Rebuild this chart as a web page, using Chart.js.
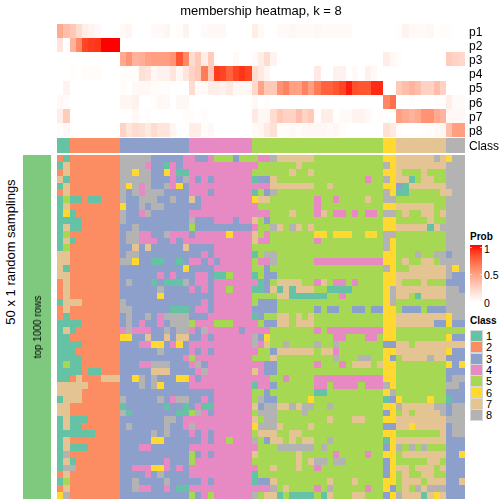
<!DOCTYPE html>
<html>
<head>
<meta charset="utf-8">
<script src="https://cdn.jsdelivr.net/npm/chart.js@4"></script>
<style>
  html, body { margin: 0; padding: 0; background: #fff; }
  body { position: relative; width: 504px; height: 504px; overflow: hidden; font-family: "Liberation Sans", sans-serif; color: #000; }
  canvas { position: absolute; }
  .txt { position: absolute; white-space: nowrap; line-height: 1; }
  .rot { transform: translate(-50%, -50%) rotate(-90deg); }
  .head { font-weight: bold; font-size: 10px; }
  .num { font-size: 10.5px; transform: translateY(-50%); }
  .swatch { position: absolute; left: 470px; width: 11px; height: 10px; border: 1px solid #d8d8d8; box-sizing: content-box; }
</style>
</head>
<body>
<canvas id="topChart" width="447" height="137" style="left:57px;top:0"></canvas>
<canvas id="classChart" width="447" height="15" style="left:57px;top:138px"></canvas>
<canvas id="mainChart" width="408" height="344" style="left:57px;top:155px"></canvas>
<canvas id="sideChart" width="28" height="344" style="left:23px;top:155px"></canvas>
<div id="labels"></div>
<script>
const titleText = 'membership heatmap, k = 8';
const probLabels = ['p1', 'p2', 'p3', 'p4', 'p5', 'p6', 'p7', 'p8'];

const p1 = [.45,.35,.3,.2,.1,.07,.04,0,0,0, .03,.06,0,0,0,.03,.03,.06,0,.02,.07, 0,0,.03,.04,.04,.04,0,0,0,0,
  .1,.03,0,0,.03,.03,.05,.03,.03,.03,.05,.03,.03,.03,.03,.03,0,0,0,0,0, 0,0, .02,.07,.03,.03,.03,.05,0,.02, .02,0,0];
const p2 = [.15,0,.4,.6,.85,.88,.9,1,1,1, 0,0,0,0,0,0,0,0,0,0,0, 0,0,0,0,0,0,0,0,0,0,
  0,0,0,0,0,0,0,0,0,0,0,0,0,0,0,0,0,0,0,0,0, 0,0, 0,0,0,0,0,0,0,0, 0,0,0];
const p3 = [0,0,0,0,0,0,0,0,0,0, .45,.55,.4,.42,.48,.5,.5,.5,.55,.8,.6, .2,.3,.1,.28,0,0,0,.03,0,0,
  .03,.1,.2,.07,0,0,0,0,0,0,0,0,0,0,0,0,0,0,0,0,0, .1,.04, .02,0,0,0,0,0,0,0, .28,.24,.22];
const p4 = [0,0,.02,0,.02,.02,.02,0,0,0, .02,.02,.02,.18,.15,.05,.08,.08,.15,.05,.15, .25,.3,.65,.3,.88,.85,.75,.85,.9,.85,
  .2,.12,.06,0,0,0,0,0,0,0,.12,0,0,.08,.08,0,.03,0,.08,.03,0, 0,0, 0,0,0,0,0,0,0,0, 0,0,0];
const p5 = [0,.07,0,0,0,0,0,0,0,0, .02,0,.04,.04,.04,.02,.02,.02,0,0,0, .2,.03,.03,.1,.1,.08,.12,.05,.05,.05,
  .22,.48,.3,.3,.55,.62,.5,.48,.62,.5,.65,.75,.75,.8,.85,.95,.82,.8,.8,.92,.92, 0,0, .3,.35,.4,.35,.25,.25,.35,.25, 0,0,0];
const p6 = [.04,.02,0,0,0,0,0,0,0,0, .06,.06,.08,0,0,.02,.05,.04,0,.05,.05, 0,0,0,0,0,0,0,0,0,0,
  .04,0,.02,0,0,0,0,0,0,0,0,0,0,0,0,0,0,0,0,0,0, .6,.7, 0,0,.01,0,0,0,.02,.01, .1,.03,.03];
const p7 = [.1,.28,0,0,0,0,0,0,0,0, 0,0,.04,0,.02,0,0,0,0,0,.02, .02,0,.02,0,0,0,0,0,0,0,
  .12,.05,.05,.2,.3,.25,.25,.35,.25,.3,.02,.1,.1,0,.03,.03,.07,.07,.04,0,.02, 0,0, .5,.45,.4,.45,.55,.55,.45,.4, .04,.04,.04];
const p8 = [.02,.04,0,0,0,0,0,0,0,0, .25,.15,.2,.18,.12,.2,.15,.15,.06,.01,.01, .1,.1,.02,.04,0,0,0,0,0,0,
  .03,.06,.12,.18,.02,.02,.04,.02,.04,.05,.05,.05,.03,.05,.02,0,0,0,0,0,0, .18,.12, .02,0,0,0,.01,.02,.03,.06, .35,.5,.5];

// class of every column, then the class picked in each of the 50 samplings
const columnClass = '11 22222222 33333333333 4444444444 555555555555555555555 66 77777777 888';
const samplingRows = [
  '21 22222222 88888333334 4334555355 544877777755555555555 66 77777787 688',
  '17 22222222 88884331434 4444444444 455555575555555555555 86 77777777 888',
  '27 22222222 88688336411 4444444444 555555755755555555555 66 75557555 888',
  '71 22222222 88888333438 4343444444 133755555555555555455 86 77157755 888',
  '17 22222222 86848338463 4444444444 444777777755755555555 66 31777777 888',
  '27 22222222 83848883333 4443444444 153855555555555555555 86 11555557 788',
  '15 11211222 83388833833 7344444444 677555555545545555755 88 55555555 888',
  '17 22222222 63383883333 3344444444 455555555545555555555 66 77777755 888',
  '16 12222222 83348333333 4444444444 444555755547544545445 88 57557757 888',
  '11 11222222 83333333333 8333444344 753555555555555555555 66 55555755 888',
  '17 11222222 33833333333 5333333333 455875875755555555555 66 77777178 888',
  '15 22222222 38844338444 3444446444 754555555566566655665 88 55555555 888',
  '17 12222222 38844433434 4444444444 744555555545555555555 86 55555555 888',
  '15 22222222 33737333337 3333444444 555555555555555555555 86 55555555 888',
  '77 22222222 38833333333 3343444444 158855555555555555555 66 55585588 388',
  '77 22222222 88633113313 4434344444 544855555544444444444 66 57557758 888',
  '71 22222222 33333333336 3333444444 553555555555555555555 86 55777777 868',
  '77 22222222 33333343433 3443115444 153355555555555555555 66 77777777 833',
  '27 22222222 38333131118 3443444444 413577775547544545555 66 75557555 333',
  '27 22222222 33333383333 4343445444 113717177755111155555 68 77777777 883',
  '27 22222222 33333363333 3333444444 555577111111554555555 68 77517777 888',
  '17 77222222 83333333333 3343444444 533355555555555555555 68 55555555 888',
  '27 22222222 88333333111 3443444444 333355555535335533533 66 53335333 888',
  '21 22222222 38338348888 3334444444 135577575755555555555 66 77777777 688',
  '11 11222222 38343343888 5444555444 453377577755555555555 66 77777733 633',
  '17 12222222 48444338388 4384444434 444555555545444444444 66 55555555 555',
  '11 22222222 66337337377 3343444444 836555555555544555445 66 55555555 633',
  '11 11222222 33344663463 4444444444 847558555585585555555 33 77577777 777',
  '11 12222222 33333383333 4343444444 455377777757745555555 66 77777777 633',
  '11 11222222 33333333334 5444444444 555755555555585558855 63 57777877 333',
  '15 11222222 33344888333 4834444444 443355555545554577757 66 55555555 636',
  '11 11211222 33333777333 3484444444 743355555555555555555 66 55555555 333',
  '11 27222777 33683833366 4344444444 444554555544444444444 66 55555555 388',
  '77 77722222 33383863333 4444444444 144355555544544445444 86 55555555 883',
  '77 77222222 33333333333 3333444444 553555555511555555555 68 55555555 333',
  '17 77222222 83333383488 3343444444 583355555655555555555 13 65555655 133',
  '77 22222222 13333331331 3411444444 738877878855855555555 66 87777788 388',
  '77 22222222 81333333311 5843444444 588855558555555555555 36 57577778 388',
  '17 11122222 33333338834 4444444444 758855555555755577555 66 77777777 888',
  '17 11222222 38333338334 8444444444 688875555755555555555 33 77677777 388',
  '11 11112222 33333838333 4343444444 577755775555555555555 66 55555557 388',
  '17 22222222 33333663333 3343445444 853775757755855555555 16 77777777 333',
  '17 11122222 33344333333 4444444444 455588888858555555555 36 85858555 333',
  '18 22222222 33333333333 5343444444 755555575555545555455 66 57777777 336',
  '17 12222222 33333334333 5444444444 555555575788588555555 36 55555775 333',
  '18 82222222 33444664343 4444444444 455755575545555555555 36 77577757 333',
  '27 22222222 33334383333 4444444444 155555555555555555555 36 57557755 333',
  '15 22222222 33833338333 3343444444 133755555555755575555 66 57775777 337',
  '27 22222222 33844334311 4444444444 444857555545855555455 63 57587888 333',
  '68 22222222 33333333333 5345444444 857715111151755577555 36 87771767 333'
];

const classLabels = ['1', '2', '3', '4', '5', '6', '7', '8'];
const classColours = ['#66C2A5', '#FC8D62', '#8DA0CB', '#E78AC3', '#A6D854', '#FFD92F', '#E5C494', '#B3B3B3'];
const sideColour = '#7FC97F';
const probStops = ['#FFFFFF', '#FFEEE8', '#FFDCD0', '#FFC8B7', '#FFB39C', '#FF9E81', '#FF8866', '#FF6F4A', '#FF5530', '#FF3518', '#FF0000'];

function hexToRgb(h) {
  return [1, 3, 5].map(i => parseInt(h.substr(i, 2), 16));
}

function probColour(v) {
  const pos = v * (probStops.length - 1);
  const i = Math.min(Math.floor(pos), probStops.length - 2);
  const a = hexToRgb(probStops[i]), b = hexToRgb(probStops[i + 1]);
  const f = pos - i;
  return 'rgb(' + a.map((c, k) => Math.round(c + (b[k] - c) * f)).join(',') + ')';
}

function classCells(row) {
  return row.replace(/ /g, '').split('').map(d => classColours[+d - 1]);
}

// cells sit on whole pixels, as in the raster the reference was made from
const snapCells = {
  id: 'snapCells',
  beforeDatasetsDraw(chart) {
    chart.getSortedVisibleDatasetMetas().forEach(meta => {
      meta.data.forEach(el => {
        const top = Math.round(el.y - el.height / 2), bottom = Math.round(el.y + el.height / 2);
        el.x = Math.round(el.x);
        el.base = Math.round(el.base);
        el.y = (top + bottom) / 2;
        el.height = bottom - top;
      });
    });
  }
};

Chart.defaults.font.family = '"Liberation Sans", sans-serif';
Chart.defaults.color = '#000';

// one horizontal floating bar per cell, one dataset per column
function heatChart(id, rowLabels, cells, extra) {
  const cols = cells[0].length;
  const datasets = [];
  for (let c = 0; c < cols; c++) {
    datasets.push({
      data: rowLabels.map(() => [c, c + 1]),
      backgroundColor: cells.map(row => row[c])
    });
  }
  const showLabels = extra && extra.showLabels;
  return new Chart(document.getElementById(id), {
    type: 'bar',
    data: { labels: rowLabels, datasets: datasets },
    plugins: [snapCells],
    options: {
      indexAxis: 'y',
      responsive: false,
      animation: false,
      grouped: false,
      barPercentage: 1,
      categoryPercentage: 1,
      borderWidth: 0,
      inflateAmount: 0,
      layout: { padding: 0 },
      plugins: {
        legend: { display: false },
        tooltip: { enabled: false },
        title: extra && extra.title ? extra.title : { display: false }
      },
      scales: {
        x: { type: 'linear', min: 0, max: cols, display: false },
        y: {
          type: 'category',
          display: !!showLabels,
          position: 'right',
          grid: { display: false, tickLength: 0 },
          border: { display: false },
          ticks: { font: { size: 12 }, color: '#000', padding: 4, labelOffset: 1.5, autoSkip: false, maxRotation: 0 },
          afterFit: showLabels ? (s => { s.width = 39; s.paddingTop = 0; s.paddingBottom = 0; }) : undefined
        }
      }
    }
  });
}

heatChart('topChart', probLabels, [p1, p2, p3, p4, p5, p6, p7, p8].map(row => row.map(probColour)), {
  showLabels: true,
  title: {
    display: true,
    text: titleText,
    fullSize: false,
    font: { size: 13, weight: 'normal' },
    color: '#000',
    padding: { top: 4, bottom: 4.4 }
  }
});
heatChart('classChart', ['Class'], [classCells(columnClass)], { showLabels: true });
heatChart('mainChart', samplingRows.map((r, i) => String(i + 1)), samplingRows.map(classCells));
heatChart('sideChart', ['top 1000 rows'], [[sideColour]]);

// side texts and legends
const box = document.getElementById('labels');
function addText(text, cls, left, top, size) {
  const el = document.createElement('div');
  el.className = 'txt ' + cls;
  el.textContent = text;
  el.style.left = left + 'px';
  el.style.top = top + 'px';
  if (size) el.style.fontSize = size + 'px';
  box.appendChild(el);
}
addText('50 x 1 random samplings', 'rot', 10, 252, 13);
addText('top 1000 rows', 'rot', 38, 327, 10);

addText('Prob', 'head', 470, 232);
const bar = document.createElement('div');
bar.style.cssText = 'position:absolute;left:470px;top:245px;width:12px;height:57px;background:linear-gradient(to top,' + probStops.join(',') + ')';
box.appendChild(bar);
[247, 274].forEach(y => {
  const l = document.createElement('div');
  l.style.cssText = 'position:absolute;left:470px;top:' + y + 'px;width:12px;height:1px;opacity:.6;background:linear-gradient(to right,#fff 0 2px,transparent 2px 10px,#fff 10px)';
  box.appendChild(l);
});
addText('1', 'num', 484, 248.5);
addText('0.5', 'num', 484, 275);
addText('0', 'num', 484, 303);

addText('Class', 'head', 470, 316);
classLabels.forEach((lab, i) => {
  const s = document.createElement('div');
  s.className = 'swatch';
  s.style.top = (330 + i * 11.35) + 'px';
  s.style.background = classColours[i];
  box.appendChild(s);
  addText(lab, 'num', 486, 336 + i * 11.35, 11);
});
</script>
</body>
</html>
